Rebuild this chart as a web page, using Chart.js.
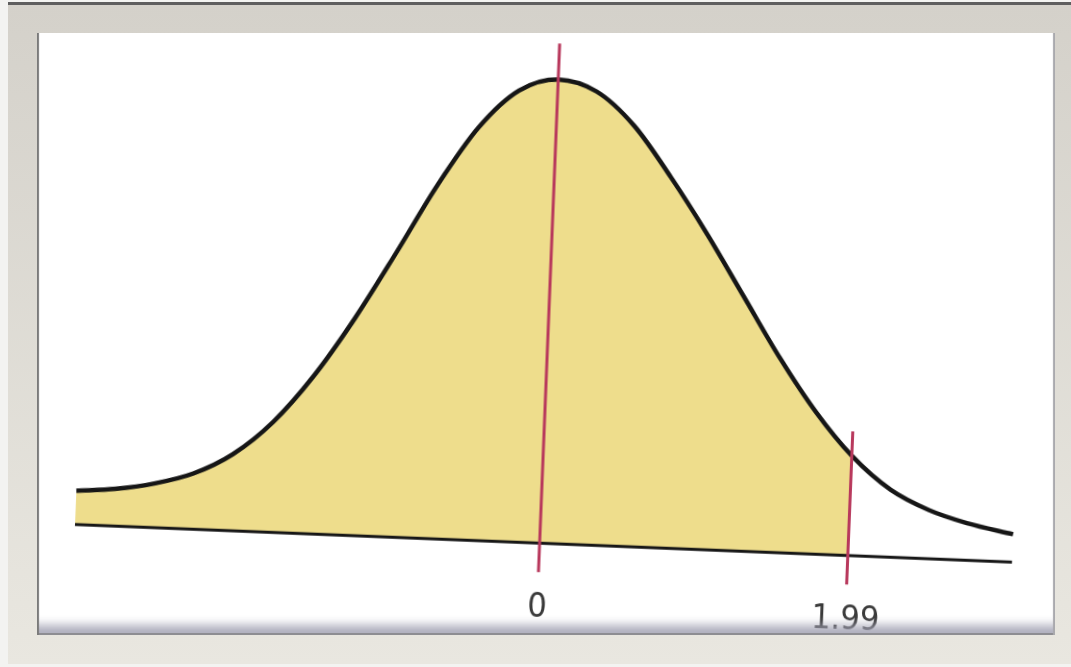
<!DOCTYPE html>
<html>
<head>
<meta charset="utf-8">
<script src="https://cdn.jsdelivr.net/npm/chart.js@4"></script>
<style>
  html, body { margin: 0; padding: 0; background: #f3f3f1; width: 1071px; height: 667px; overflow: hidden; }
  .frame {
    position: absolute; left: 8px; top: 2px; width: 1063px; height: 662px;
    background: linear-gradient(#d4d1ca, #e9e7e0);
    border-top: 3px solid #5e5e5e;
    box-sizing: border-box;
  }
  .panel {
    position: absolute; left: 37px; top: 33px; width: 1018px; height: 602px;
    background: #fff; overflow: hidden;
  }
  .panel canvas {
    position: absolute; left: 0; top: 0;
    transform: rotate(2.3deg);
    transform-origin: 50% 50%;
  }
  .bevel {
    position: absolute; left: 0; top: 0; right: 0; bottom: 0; pointer-events: none;
    box-shadow:
      inset 3px 0 1px -1px #7a7a7a,
      inset -3px 0 1px -1px #a9a9ad,
      inset 0 -2px 0 0 #8d8d92,
      inset 0 -18px 10px -8px rgba(160, 160, 178, 0.85);
  }
</style>
</head>
<body>
<div class="frame"></div>
<div class="panel">
  <canvas id="curveChart" width="1018" height="602"></canvas>
  <div class="bevel"></div>
</div>
<script>
// curve heights, at each z position
const zPoints = [-3.0, -2.75, -2.5, -2.25, -2.0, -1.75, -1.5, -1.25, -1.0, -0.75, -0.5, -0.25,
                 0, 0.25, 0.5, 0.75, 1.0, 1.25, 1.5, 1.75, 1.99, 2.25, 2.5, 2.75, 3.05];
const curveHeights = [0.029, 0.032, 0.038, 0.048, 0.066, 0.095, 0.136, 0.187, 0.245, 0.305, 0.356, 0.389,
                      0.400, 0.391, 0.363, 0.320, 0.272, 0.220, 0.168, 0.122, 0.086, 0.058, 0.042, 0.032, 0.024];

// vertical markers and their labels
const cutoffs = [0, 1.99];
const cutoffLabels = ['0', '1.99'];
const markerTops = [0.431, 0.107];
const markerBottom = -0.025;

const shadeColor = '#eedd8c';
const curveColor = '#161616';
const markerColor = '#b8385c';

const curvePts = zPoints.map((z, i) => ({ x: z, y: curveHeights[i] }));
const shadedPts = curvePts.filter(p => p.x <= cutoffs[1]);
const baselinePts = [{ x: zPoints[0], y: 0 }, { x: zPoints[zPoints.length - 1], y: 0 }];

const markerSets = cutoffs.map((c, i) => ({
  data: [{ x: c, y: markerBottom }, { x: c, y: markerTops[i] }],
  borderColor: markerColor,
  borderWidth: 3,
  pointRadius: 0,
  fill: false
}));

new Chart(document.getElementById('curveChart'), {
  type: 'line',
  data: {
    datasets: [
      ...markerSets,
      {
        data: curvePts,
        borderColor: curveColor,
        borderWidth: 4.5,
        pointRadius: 0,
        cubicInterpolationMode: 'monotone',
        fill: false
      },
      {
        data: baselinePts,
        borderColor: curveColor,
        borderWidth: 3,
        pointRadius: 0,
        fill: false
      },
      {
        data: shadedPts,
        borderWidth: 0,
        borderColor: 'rgba(0,0,0,0)',
        backgroundColor: shadeColor,
        pointRadius: 0,
        cubicInterpolationMode: 'monotone',
        fill: 'origin'
      }
    ]
  },
  options: {
    responsive: false,
    animation: false,
    layout: { padding: 0 },
    plugins: { legend: { display: false }, tooltip: { enabled: false } },
    scales: {
      x: {
        type: 'linear',
        min: -3.297,
        max: 3.271,
        grid: { display: false, drawTicks: false },
        border: { display: false },
        afterBuildTicks: axis => { axis.ticks = cutoffs.map(v => ({ value: v })); },
        ticks: {
          autoSkip: false,
          maxRotation: 0,
          padding: 6,
          color: '#3a3a3a',
          font: { family: "'Liberation Sans Narrow', 'DejaVu Sans Condensed', 'Liberation Sans', sans-serif", size: 34 },
          callback: (value, index) => cutoffLabels[index]
        }
      },
      y: {
        display: false,
        min: -0.0336,
        max: 0.4398
      }
    }
  }
});
</script>
</body>
</html>
